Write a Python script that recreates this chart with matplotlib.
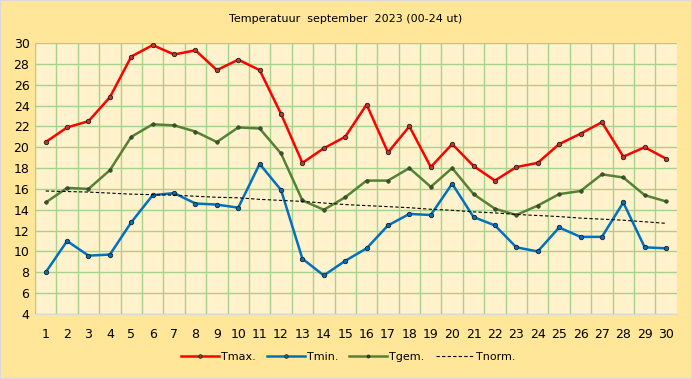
import matplotlib
matplotlib.use("Agg")
import matplotlib.pyplot as plt
from matplotlib.lines import Line2D
from matplotlib.patches import Rectangle

days = list(range(1, 31))
tmax = [20.5, 21.9, 22.5, 24.8, 28.7, 29.8, 28.9, 29.3, 27.4, 28.4,
        27.4, 23.2, 18.5, 19.9, 21.0, 24.1, 19.5, 22.0, 18.1, 20.3,
        18.2, 16.8, 18.1, 18.5, 20.3, 21.3, 22.4, 19.1, 20.0, 18.9]
tmin = [8.0, 11.0, 9.6, 9.7, 12.8, 15.4, 15.6, 14.6, 14.5, 14.2,
        18.4, 15.9, 9.3, 7.7, 9.1, 10.3, 12.5, 13.6, 13.5, 16.5,
        13.3, 12.5, 10.4, 10.0, 12.3, 11.4, 11.4, 14.7, 10.4, 10.3]
tgem = [14.7, 16.1, 16.0, 17.8, 21.0, 22.2, 22.1, 21.5, 20.5, 21.9,
        21.8, 19.4, 14.9, 14.0, 15.2, 16.8, 16.8, 18.0, 16.2, 18.0,
        15.5, 14.1, 13.5, 14.4, 15.5, 15.8, 17.4, 17.1, 15.4, 14.8]
tnorm = [15.8, 15.75, 15.7, 15.6, 15.5, 15.45, 15.4, 15.3, 15.2, 15.15,
         15.0, 14.9, 14.8, 14.65, 14.5, 14.4, 14.3, 14.2, 14.05, 13.95,
         13.8, 13.7, 13.55, 13.45, 13.35, 13.2, 13.1, 13.0, 12.85, 12.7]
yticks = list(range(4, 31, 2))

outer_bg = "#FFE699"
plot_bg = "#FFF2CC"
grid_col = "#A9D18E"

fig = plt.figure(figsize=(6.92, 3.79), dpi=100, facecolor=outer_bg)
fig.patches.append(Rectangle((0, 0), 1, 1, transform=fig.transFigure,
                             fill=False, edgecolor="#D9D9D9", linewidth=1.5))
ax = fig.add_axes([0.0506, 0.1715, 0.9274, 0.715])
ax.set_facecolor(plot_bg)

ax.set_xlim(0.5, 30.5)
ax.set_ylim(4, 30)
ax.set_yticks(yticks)
ax.set_xticks(days)
ax.set_xticks([d + 0.5 for d in range(0, 30)], minor=True)
ax.grid(True, axis="y", which="major", color=grid_col, linewidth=1.0)
ax.grid(True, axis="x", which="minor", color=grid_col, linewidth=1.0)
ax.set_axisbelow(True)
for s in ax.spines.values():
    s.set_visible(False)
ax.spines["bottom"].set_visible(True)
ax.spines["bottom"].set_color("#D9D9D9")
ax.tick_params(axis="both", which="both", length=0, labelsize=9, colors="#000000")
ax.tick_params(axis="x", pad=10)
ax.tick_params(axis="y", pad=4)

mk = dict(marker="o", markersize=3.2, markeredgecolor="#202020", markeredgewidth=0.6)
ax.plot(days, tmax, color="#FF0000", linewidth=1.8, markerfacecolor="#C0392B", **mk)
ax.plot(days, tmin, color="#0070C0", linewidth=1.8, markerfacecolor="#0070C0", **mk)
ax.plot(days, tgem, color="#548235", linewidth=1.8, markerfacecolor="#385723",
        marker="o", markersize=2.6, markeredgecolor="#303030", markeredgewidth=0.4)
ax.plot(days, tnorm, color="#000000", linewidth=0.8, linestyle=(0, (3, 2)))

fig.text(0.5, 0.95, "Temperatuur  september  2023 (00-24 ut)", ha="center",
         va="center", fontsize=8)

handles = [
    Line2D([], [], color="#FF0000", linewidth=1.8, markerfacecolor="#C0392B", **mk),
    Line2D([], [], color="#0070C0", linewidth=1.8, markerfacecolor="#0070C0", **mk),
    Line2D([], [], color="#548235", linewidth=1.8, marker="o", markersize=2.2,
           markerfacecolor="#385723", markeredgecolor="#303030"),
    Line2D([], [], color="#000000", linewidth=0.8, linestyle=(0, (3, 2))),
]
labels = ["Tmax.", "Tmin.", "Tgem.", "Tnorm."]
fig.legend(handles, labels, loc="center", bbox_to_anchor=(0.503, 0.058), ncol=4,
           frameon=False, fontsize=8, handlelength=3.4, handletextpad=0.2,
           columnspacing=1.0, markerscale=0.8)

fig.savefig("out.png", dpi=100, facecolor=outer_bg)
